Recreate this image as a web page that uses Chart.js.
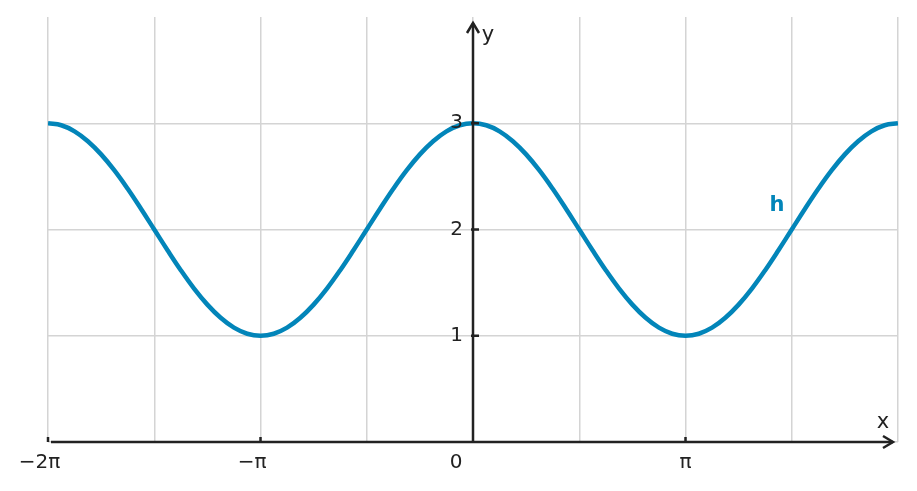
<!DOCTYPE html>
<html>
<head>
<meta charset="utf-8">
<script src="https://cdn.jsdelivr.net/npm/chart.js@4/dist/chart.umd.min.js"></script>
<style>
  body { margin: 0; background: #fff; }
  #wrap { width: 917px; height: 491px; position: relative; }
</style>
</head>
<body>
<div id="wrap"><canvas id="graph"></canvas></div>
<script>
// x in multiples of pi (steps of pi/16), h
var xPi = [-2, -1.9375, -1.875, -1.8125, -1.75, -1.6875, -1.625, -1.5625, -1.5, -1.4375, -1.375, -1.3125, -1.25, -1.1875, -1.125, -1.0625,
           -1, -0.9375, -0.875, -0.8125, -0.75, -0.6875, -0.625, -0.5625, -0.5, -0.4375, -0.375, -0.3125, -0.25, -0.1875, -0.125, -0.0625,
           0, 0.0625, 0.125, 0.1875, 0.25, 0.3125, 0.375, 0.4375, 0.5, 0.5625, 0.625, 0.6875, 0.75, 0.8125, 0.875, 0.9375,
           1, 1.0625, 1.125, 1.1875, 1.25, 1.3125, 1.375, 1.4375, 1.5, 1.5625, 1.625, 1.6875, 1.75, 1.8125, 1.875, 1.9375, 2];
var hVals = [3, 2.981, 2.924, 2.831, 2.707, 2.556, 2.383, 2.195, 2, 1.805, 1.617, 1.444, 1.293, 1.169, 1.076, 1.019,
             1, 1.019, 1.076, 1.169, 1.293, 1.444, 1.617, 1.805, 2, 2.195, 2.383, 2.556, 2.707, 2.831, 2.924, 2.981,
             3, 2.981, 2.924, 2.831, 2.707, 2.556, 2.383, 2.195, 2, 1.805, 1.617, 1.444, 1.293, 1.169, 1.076, 1.019,
             1, 1.019, 1.076, 1.169, 1.293, 1.444, 1.617, 1.805, 2, 2.195, 2.383, 2.556, 2.707, 2.831, 2.924, 2.981, 3];
var xTickVals = [-2, -1, 0, 1];
var xTickLabels = ['\u22122\u03c0', '\u2212\u03c0', '0', '\u03c0'];
var yTickVals = [1, 2, 3];
var yTickLabels = ['1', '2', '3'];
var curveName = 'h';
var curveLabelAt = { x: 1.43, y: 2.23 };

var blue = '#0285b9';
var ink = '#222222';
var font = '"DejaVu Sans", sans-serif';

var pts = [];
for (var i = 0; i < xPi.length; i++) pts.push({ x: xPi[i], y: hVals[i] });

var axesPlugin = {
	id: 'axes',
	afterDatasetsDraw: function(chart) {
		var ctx = chart.ctx;
		var xs = chart.scales.x, ys = chart.scales.y;
		var a = chart.chartArea;
		var x0 = xs.getPixelForValue(0);
		var y0 = ys.getPixelForValue(0);
		ctx.save();
		ctx.strokeStyle = ink;
		ctx.lineWidth = 2.5;
		ctx.lineCap = 'butt';
		// x axis
		ctx.beginPath();
		ctx.moveTo(a.left + 3, y0);
		ctx.lineTo(a.right - 5, y0);
		ctx.stroke();
		ctx.beginPath();
		ctx.moveTo(a.right - 15, y0 - 6);
		ctx.lineTo(a.right - 5, y0);
		ctx.lineTo(a.right - 15, y0 + 6);
		ctx.stroke();
		// y axis
		ctx.beginPath();
		ctx.moveTo(x0, y0 + 1);
		ctx.lineTo(x0, a.top + 6);
		ctx.stroke();
		ctx.beginPath();
		ctx.moveTo(x0 - 6, a.top + 16);
		ctx.lineTo(x0, a.top + 6);
		ctx.lineTo(x0 + 6, a.top + 16);
		ctx.stroke();
		// tick marks
		xTickVals.forEach(function(v) {
			if (v === 0) return;
			var px = xs.getPixelForValue(v);
			ctx.beginPath();
			ctx.moveTo(px, y0);
			ctx.lineTo(px, y0 - 5);
			ctx.stroke();
		});
		yTickVals.forEach(function(v) {
			var py = ys.getPixelForValue(v);
			ctx.beginPath();
			ctx.moveTo(x0 - 2, py);
			ctx.lineTo(x0 + 6, py);
			ctx.stroke();
		});
		// tick labels
		ctx.fillStyle = ink;
		ctx.font = '20px ' + font;
		ctx.textBaseline = 'middle';
		xTickVals.forEach(function(v, i) {
			var lab = xTickLabels[i];
			var px = xs.getPixelForValue(v);
			if (v === 0) {
				ctx.textAlign = 'center';
				ctx.fillText(lab, x0 - 17, y0 + 21);
				return;
			}
			var core = lab.replace('\u2212', '');
			var w = ctx.measureText(core).width;
			ctx.textAlign = 'right';
			ctx.fillText(lab, px + w / 2, y0 + 21);
		});
		ctx.textAlign = 'right';
		yTickVals.forEach(function(v, i) {
			ctx.fillText(yTickLabels[i], x0 - 10, ys.getPixelForValue(v));
		});
		// axis names
		ctx.font = '21px ' + font;
		ctx.textAlign = 'center';
		ctx.fillText('x', a.right - 15, y0 - 19);
		ctx.fillText('y', x0 + 15, a.top + 19);
		// curve name
		ctx.fillStyle = blue;
		ctx.font = 'bold 21px ' + font;
		ctx.fillText(curveName, xs.getPixelForValue(curveLabelAt.x), ys.getPixelForValue(curveLabelAt.y));
		ctx.restore();
	}
};

new Chart(document.getElementById('graph'), {
	type: 'line',
	data: {
		datasets: [{
			label: curveName,
			data: pts,
			borderColor: blue,
			borderWidth: 4.5,
			pointRadius: 0,
			fill: false,
			tension: 0.4
		}]
	},
	options: {
		responsive: true,
		maintainAspectRatio: false,
		animation: false,
		layout: { padding: { left: 48, right: 19, top: 17, bottom: 49 } },
		plugins: { legend: { display: false }, tooltip: { enabled: false } },
		scales: {
			x: {
				type: 'linear',
				min: -2, max: 2,
				ticks: { display: false, stepSize: 0.5 },
				grid: { color: '#d4d4d4', lineWidth: 1.5, drawTicks: false },
				border: { display: false }
			},
			y: {
				type: 'linear',
				min: 0, max: 4,
				ticks: { display: false, stepSize: 1 },
				grid: {
					color: function(c) { return c.tick && c.tick.value === 4 ? 'rgba(0,0,0,0)' : '#d4d4d4'; },
					lineWidth: 1.5, drawTicks: false
				},
				border: { display: false }
			}
		}
	},
	plugins: [axesPlugin]
});
</script>
</body>
</html>
